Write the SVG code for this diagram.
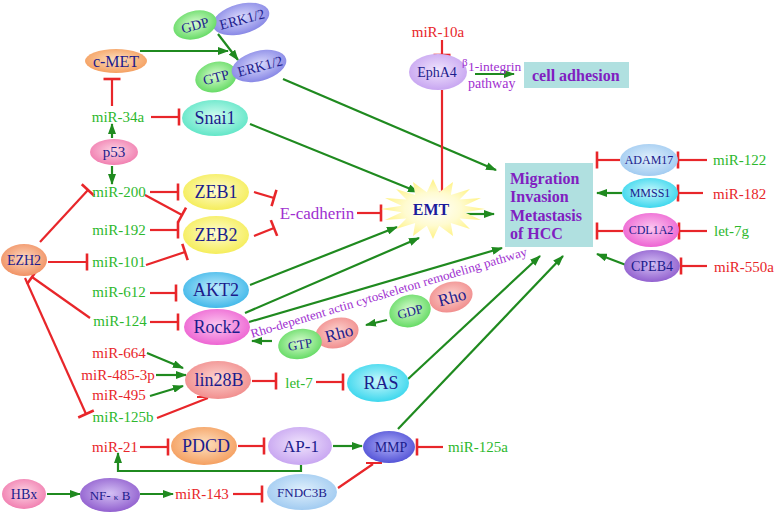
<svg xmlns="http://www.w3.org/2000/svg" width="778" height="513" viewBox="0 0 778 513">
<style>
text{font-family:"Liberation Serif","Times New Roman",serif}
.n{fill:#1c1c8c;text-anchor:middle}
.g{fill:#2db82d;font-size:15px;text-anchor:middle}
.r{fill:#e8262a;font-size:15px;text-anchor:middle}
.s{text-anchor:start}
.p{fill:#a030d0}
.b{fill:#8020c0;font-weight:bold;font-size:16px}
.ga{stroke:#1f8a1f;stroke-width:2.2;fill:none;marker-end:url(#arr)}
.rt{stroke:#e8262a;stroke-width:2.2;fill:none;marker-end:url(#tee)}
.rl{stroke:#e8262a;stroke-width:2.2;fill:none}
</style>
<defs>
<marker id="arr" markerUnits="userSpaceOnUse" markerWidth="11" markerHeight="8" refX="10" refY="4" orient="auto"><path d="M0,0 L11,4 L0,8 z" fill="#1f8a1f"/></marker>
<marker id="tee" markerUnits="userSpaceOnUse" markerWidth="6" markerHeight="20" refX="3" refY="10" orient="auto"><path d="M3,1.5 V18.5" stroke="#e8262a" stroke-width="2.6"/></marker>
<radialGradient id="gOr" cx="50%" cy="45%" r="60%"><stop offset="0" stop-color="#fde0c0"/><stop offset="1" stop-color="#f49a58"/></radialGradient>
<radialGradient id="gGr" cx="50%" cy="45%" r="60%"><stop offset="0" stop-color="#d8fcd0"/><stop offset="1" stop-color="#5cd85c"/></radialGradient>
<radialGradient id="gBl" cx="50%" cy="45%" r="60%"><stop offset="0" stop-color="#dcdcfc"/><stop offset="1" stop-color="#8080e4"/></radialGradient>
<radialGradient id="gAq" cx="50%" cy="45%" r="60%"><stop offset="0" stop-color="#d0fcf0"/><stop offset="1" stop-color="#58e4c4"/></radialGradient>
<radialGradient id="gPk" cx="50%" cy="45%" r="60%"><stop offset="0" stop-color="#fcd4e4"/><stop offset="1" stop-color="#f078ac"/></radialGradient>
<radialGradient id="gYe" cx="50%" cy="45%" r="60%"><stop offset="0" stop-color="#fffcd0"/><stop offset="1" stop-color="#f4ec50"/></radialGradient>
<radialGradient id="gEz" cx="50%" cy="45%" r="60%"><stop offset="0" stop-color="#fcd8c0"/><stop offset="1" stop-color="#f08c5c"/></radialGradient>
<radialGradient id="gSk" cx="50%" cy="45%" r="60%"><stop offset="0" stop-color="#c0ecfc"/><stop offset="1" stop-color="#38b4e8"/></radialGradient>
<radialGradient id="gMg" cx="50%" cy="45%" r="60%"><stop offset="0" stop-color="#fcc8f0"/><stop offset="1" stop-color="#ec5cd0"/></radialGradient>
<radialGradient id="gSa" cx="50%" cy="45%" r="60%"><stop offset="0" stop-color="#fcd4d0"/><stop offset="1" stop-color="#f08888"/></radialGradient>
<radialGradient id="gCy" cx="50%" cy="45%" r="60%"><stop offset="0" stop-color="#c8f8fc"/><stop offset="1" stop-color="#30d4ec"/></radialGradient>
<radialGradient id="gLv" cx="50%" cy="45%" r="60%"><stop offset="0" stop-color="#f0e4fc"/><stop offset="1" stop-color="#c4a0f0"/></radialGradient>
<radialGradient id="gDb" cx="50%" cy="45%" r="60%"><stop offset="0" stop-color="#b0b0f8"/><stop offset="1" stop-color="#4c4cd4"/></radialGradient>
<radialGradient id="gLb" cx="50%" cy="45%" r="60%"><stop offset="0" stop-color="#e0f0fc"/><stop offset="1" stop-color="#9cc8f0"/></radialGradient>
<radialGradient id="gPu" cx="50%" cy="45%" r="60%"><stop offset="0" stop-color="#d4c0f4"/><stop offset="1" stop-color="#8c58cc"/></radialGradient>
<radialGradient id="gSt" cx="50%" cy="50%" r="55%"><stop offset="0" stop-color="#ffffff"/><stop offset="0.5" stop-color="#fffbd0"/><stop offset="1" stop-color="#fff070"/></radialGradient>
</defs>

<g id="connectors">
<path class="ga" d="M140,51 L228,51"/>
<path class="ga" d="M218,34 L238,60"/>
<path class="ga" d="M283,79 L496,170"/>
<path class="ga" d="M112,138 L112,124"/>
<path class="ga" d="M112,166 L112,184"/>
<path class="ga" d="M250,124 L418,192"/>
<path class="ga" d="M462,214 L494,214"/>
<path class="ga" d="M250,285 L397,227"/>
<path class="ga" d="M245,313 L419,238"/>
<path class="ga" d="M249,322 L502,248"/>
<path class="ga" d="M387,320 L366,325"/>
<path class="ga" d="M272,341 L252,341"/>
<path class="ga" d="M147,353 L183,368"/>
<path class="ga" d="M156,375 L186,375"/>
<path class="ga" d="M150,396 L183,386"/>
<path class="ga" d="M408,379 L540,256"/>
<path class="ga" d="M398,429 L563,256"/>
<path class="ga" d="M333,446 L362,446"/>
<path class="ga" d="M301,465 V471 H118 V453"/>
<path class="ga" d="M47,494 L80,494"/>
<path class="ga" d="M140,494 L173,494"/>
<path class="ga" d="M622,193 L597,193"/>
<path class="ga" d="M626,265 L597,254"/>
<path class="ga" d="M475,74 L514,74"/>

<path class="rt" d="M112,106 L112,79"/>
<path class="rt" d="M151,117 L179,117"/>
<path class="rt" d="M40,242 L88,190"/>
<path class="rt" d="M48,262 L87,262"/>
<path class="rt" d="M150,192 L178,192"/>
<path class="rt" d="M145,195 L182,215"/>
<path class="rt" d="M150,230 L178,230"/>
<path class="rt" d="M146,265 L185,252"/>
<path class="rt" d="M150,293 L176,293"/>
<path class="rt" d="M150,322 L178,322"/>
<path class="rt" d="M90,318 L32,277"/>
<path class="rt" d="M25,278 L86,414"/>
<path class="rt" d="M254,192 L274,198"/>
<path class="rt" d="M254,236 L274,228"/>
<path class="rt" d="M357,213 L381,213"/>
<path class="rt" d="M442,90 L442,193"/>
<path class="rt" d="M442,40 L442,55"/>
<path class="rl" d="M157,418 L208,398 M197,397 H218"/>
<path class="rt" d="M252,381 L276,381"/>
<path class="rt" d="M316,382 L343,382"/>
<path class="rt" d="M140,447 L168,447"/>
<path class="rt" d="M238,446 L264,446"/>
<path class="rt" d="M443,447 L417,447"/>
<path class="rl" d="M338,488 L373,464 M366,463 H382"/>
<path class="rt" d="M233,494 L262,494"/>
<path class="rt" d="M620,160 L597,160"/>
<path class="rt" d="M707,160 L678,160"/>
<path class="rt" d="M703,193 L678,193"/>
<path class="rt" d="M623,231 L597,231"/>
<path class="rt" d="M707,231 L679,231"/>
<path class="rt" d="M707,266 L681,266"/>
</g>

<g id="gdp-erk"><ellipse cx="241" cy="19" rx="29" ry="15" transform="rotate(-15 241 19)" fill="url(#gBl)"/><text class="n" x="242" y="24" font-size="14" transform="rotate(-15 242 19)">ERK1/2</text><ellipse cx="195" cy="25" rx="22" ry="14" transform="rotate(-15 195 25)" fill="url(#gGr)"/><text class="n" x="195" y="30" font-size="14" transform="rotate(-15 195 25)">GDP</text></g>
<g id="gtp-erk"><ellipse cx="216" cy="77" rx="21" ry="15" transform="rotate(-15 216 77)" fill="url(#gGr)"/><text class="n" x="216" y="82" font-size="14" transform="rotate(-15 216 77)">GTP</text><ellipse cx="259" cy="66" rx="28" ry="15" transform="rotate(-15 259 66)" fill="url(#gBl)"/><text class="n" x="260" y="71" font-size="14" transform="rotate(-15 260 66)">ERK1/2</text></g>
<g id="cmet"><ellipse cx="116" cy="61" rx="31" ry="12" fill="url(#gOr)"/><text class="n" x="116" y="67" font-size="16">c-MET</text></g>
<g id="mir34a"><text class="g" x="118" y="122">miR-34a</text></g>
<g id="snai1"><ellipse cx="215" cy="118" rx="33" ry="18" fill="url(#gAq)"/><text class="n" x="215" y="124" font-size="18">Snai1</text></g>
<g id="p53"><ellipse cx="114" cy="152" rx="24" ry="13" fill="url(#gPk)"/><text class="n" x="114" y="157" font-size="15">p53</text></g>
<g id="mir10a"><text class="r" x="438" y="37">miR-10a</text></g>
<g id="epha4"><ellipse cx="438" cy="72" rx="29" ry="18" fill="url(#gLv)"/><text class="n" x="437" y="77" font-size="14">EphA4</text></g>
<g id="integrin"><text class="p" x="462" y="66" font-size="11">β</text><text class="p" x="468" y="71" font-size="13.5">1-integrin</text><text class="p" x="468" y="88" font-size="14">pathway</text></g>
<g id="celladhesion"><rect x="524" y="62" width="105" height="26" fill="#b0e0e0"/><text class="b" x="532" y="81" font-size="15">cell adhesion</text></g>
<g id="ezh2"><ellipse cx="24" cy="260" rx="23" ry="16" fill="url(#gEz)"/><text class="n" x="24" y="265" font-size="14">EZH2</text></g>
<g id="mir200"><text class="g" x="119" y="197">miR-200</text></g>
<g id="mir192"><text class="g" x="119" y="235">miR-192</text></g>
<g id="mir101"><text class="g" x="119" y="267">miR-101</text></g>
<g id="mir612"><text class="g" x="119" y="297">miR-612</text></g>
<g id="mir124"><text class="g" x="120" y="326">miR-124</text></g>
<g id="zeb1"><ellipse cx="216" cy="192" rx="33" ry="18" fill="url(#gYe)"/><text class="n" x="216" y="198" font-size="18">ZEB1</text></g>
<g id="zeb2"><ellipse cx="216" cy="235" rx="33" ry="19" fill="url(#gYe)"/><text class="n" x="216" y="241" font-size="18">ZEB2</text></g>
<g id="ecadherin"><text class="p" x="317" y="219" font-size="17" text-anchor="middle">E-cadherin</text></g>
<g id="emt"><polygon points="485,209 464.4,212.3 481,220 459.6,218.4 470,229 450.8,223.1 453,236 439.2,225.7 433,239 426.8,225.7 413,236 415.2,223.1 396,229 406.4,218.4 385,220 401.6,212.3 381,209 401.6,205.7 385,198 406.4,199.6 396,189 415.2,194.9 413,182 426.8,192.3 433,179 439.2,192.3 453,182 450.8,194.9 470,189 459.6,199.6 481,198 464.4,205.7" fill="url(#gSt)"/><text x="431" y="215" font-size="16" font-weight="bold" fill="#1c1c9c" text-anchor="middle">EMT</text></g>
<g id="migration"><rect x="505" y="163" width="88" height="84" fill="#b0e0e0"/><text class="b" x="510" y="184">Migration</text><text class="b" x="510" y="202">Invasion</text><text class="b" x="510" y="221">Metastasis</text><text class="b" x="510" y="239">of HCC</text></g>
<g id="adam17"><ellipse cx="649" cy="160" rx="29" ry="16" fill="url(#gLb)"/><text class="n" x="649" y="164" font-size="12">ADAM17</text></g>
<g id="mmss1"><ellipse cx="650" cy="193" rx="28" ry="15" fill="url(#gCy)"/><text class="n" x="650" y="197" font-size="12">MMSS1</text></g>
<g id="cdl1a2"><ellipse cx="651" cy="230" rx="28" ry="17" fill="url(#gMg)"/><text class="n" x="651" y="234" font-size="12">CDL1A2</text></g>
<g id="cpeb4"><ellipse cx="652" cy="266" rx="28" ry="16" fill="url(#gPu)"/><text class="n" x="652" y="271" font-size="14">CPEB4</text></g>
<g id="mir122"><text class="g s" x="713" y="165">miR-122</text></g>
<g id="mir182"><text class="r s" x="713" y="199">miR-182</text></g>
<g id="let7g"><text class="g s" x="714" y="236">let-7g</text></g>
<g id="mir550a"><text class="r s" x="714" y="272">miR-550a</text></g>
<g id="akt2"><ellipse cx="216" cy="290" rx="33" ry="18" fill="url(#gSk)"/><text class="n" x="216" y="296" font-size="18">AKT2</text></g>
<g id="rock2"><ellipse cx="217" cy="327" rx="33" ry="18" fill="url(#gMg)"/><text class="n" x="217" y="333" font-size="18">Rock2</text></g>
<g id="rho-path"><text class="p" x="252" y="338" font-size="12.5" textLength="288" lengthAdjust="spacingAndGlyphs" transform="rotate(-16.7 252 338)">Rho-depentent actin cytoskeleton remodeling pathway</text></g>
<g id="gdp-rho"><ellipse cx="451" cy="297" rx="22" ry="15" transform="rotate(-15 451 297)" fill="url(#gSa)"/><text class="n" x="452" y="303" font-size="17" transform="rotate(-15 452 297)">Rho</text><ellipse cx="410" cy="311" rx="21" ry="16" transform="rotate(-15 410 311)" fill="url(#gGr)"/><text class="n" x="410" y="316" font-size="13" transform="rotate(-15 410 311)">GDP</text></g>
<g id="gtp-rho"><ellipse cx="337" cy="333" rx="22" ry="15" transform="rotate(-15 337 333)" fill="url(#gSa)"/><text class="n" x="339" y="339" font-size="17" transform="rotate(-15 339 333)">Rho</text><ellipse cx="300" cy="344" rx="22" ry="15" transform="rotate(-10 300 344)" fill="url(#gGr)"/><text class="n" x="300" y="349" font-size="13" transform="rotate(-10 300 344)">GTP</text></g>
<g id="mir664"><text class="r" x="119" y="358">miR-664</text></g>
<g id="mir485"><text class="r" x="118" y="380">miR-485-3p</text></g>
<g id="mir495"><text class="r" x="119" y="400">miR-495</text></g>
<g id="mir125b"><text class="g" x="123" y="422">miR-125b</text></g>
<g id="lin28b"><ellipse cx="218" cy="380" rx="33" ry="19" fill="url(#gSa)"/><text class="n" x="219" y="386" font-size="18">lin28B</text></g>
<g id="let7"><text class="g" x="299" y="388">let-7</text></g>
<g id="ras"><ellipse cx="378" cy="383" rx="31" ry="19" fill="url(#gCy)"/><text class="n" x="381" y="389" font-size="18">RAS</text></g>
<g id="mir21"><text class="r" x="115" y="452">miR-21</text></g>
<g id="pdcd"><ellipse cx="204" cy="446" rx="33" ry="19" fill="url(#gOr)"/><text class="n" x="206" y="452" font-size="18">PDCD</text></g>
<g id="ap1"><ellipse cx="300" cy="446" rx="32" ry="19" fill="url(#gLv)"/><text class="n" x="301" y="452" font-size="17">AP-1</text></g>
<g id="mmp"><ellipse cx="389" cy="447" rx="26" ry="16" fill="url(#gDb)"/><text class="n" x="391" y="452" font-size="14">MMP</text></g>
<g id="mir125a"><text class="g" x="478" y="452">miR-125a</text></g>
<g id="fndc3b"><ellipse cx="302" cy="492" rx="35" ry="18" fill="url(#gLb)"/><text class="n" x="302" y="497" font-size="13">FNDC3B</text></g>
<g id="hbx"><ellipse cx="24" cy="494" rx="22" ry="15" fill="url(#gPk)"/><text class="n" x="24" y="499" font-size="14">HBx</text></g>
<g id="nfkb"><ellipse cx="110" cy="495" rx="30" ry="17" fill="url(#gPu)"/><text class="n" x="110" y="500" font-size="13">NF- <tspan font-size="9">κ</tspan> B</text></g>
<g id="mir143"><text class="r" x="202" y="499">miR-143</text></g>
</svg>
